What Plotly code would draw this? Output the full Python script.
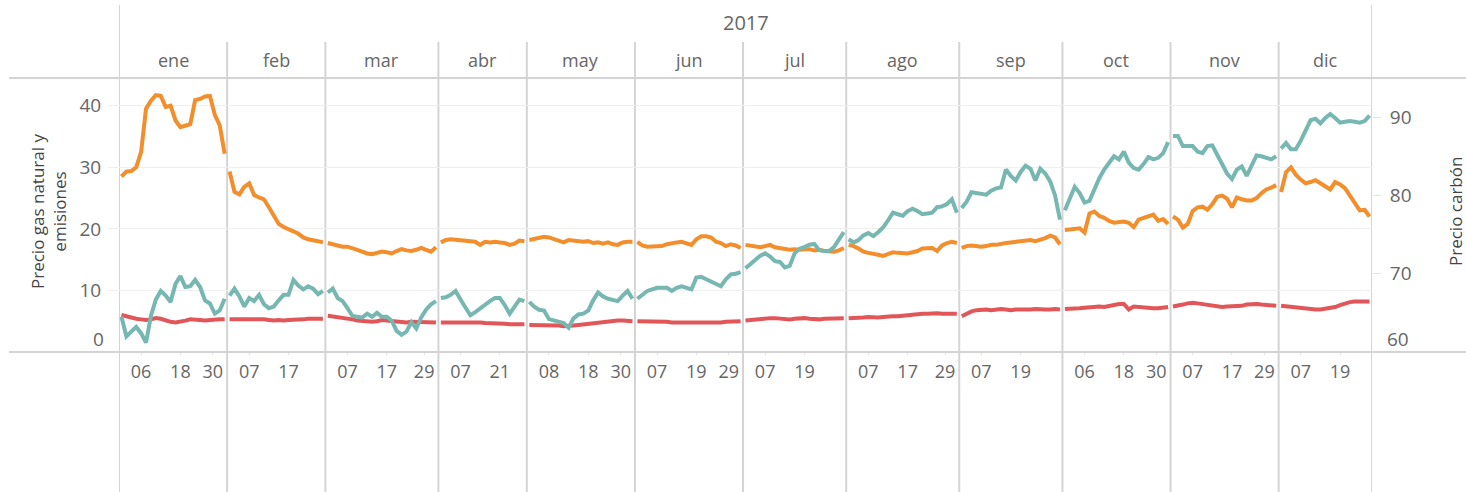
import plotly.graph_objects as go

# ---------------- data ----------------
months = ["ene", "feb", "mar", "abr", "may", "jun", "jul", "ago", "sep", "oct", "nov", "dic"]
year_label = "2017"

# trading days (day of month) in each month of 2017
trading_days = [
    [2, 3, 4, 5, 6, 9, 10, 11, 12, 13, 16, 17, 18, 19, 20, 23, 24, 25, 26, 27, 30, 31],
    [1, 2, 3, 6, 7, 8, 9, 10, 13, 14, 15, 16, 17, 20, 21, 22, 23, 24, 27, 28],
    [1, 2, 3, 6, 7, 8, 9, 10, 13, 14, 15, 16, 17, 20, 21, 22, 23, 24, 27, 28, 29, 30, 31],
    [3, 4, 5, 6, 7, 10, 11, 12, 13, 18, 19, 20, 21, 24, 25, 26, 27, 28],
    [2, 3, 4, 5, 8, 9, 10, 11, 12, 15, 16, 17, 18, 19, 22, 23, 24, 25, 26, 29, 30, 31],
    [1, 2, 5, 6, 7, 8, 9, 12, 13, 14, 15, 16, 19, 20, 21, 22, 23, 26, 27, 28, 29, 30],
    [3, 4, 5, 6, 7, 10, 11, 12, 13, 14, 17, 18, 19, 20, 21, 24, 25, 26, 27, 28, 31],
    [1, 2, 3, 4, 7, 8, 9, 10, 11, 14, 15, 16, 17, 18, 21, 22, 23, 24, 25, 28, 29, 30, 31],
    [1, 4, 5, 6, 7, 8, 11, 12, 13, 14, 15, 18, 19, 20, 21, 22, 25, 26, 27, 28, 29],
    [2, 3, 4, 5, 6, 9, 10, 11, 12, 13, 16, 17, 18, 19, 20, 23, 24, 25, 26, 27, 30, 31],
    [1, 2, 3, 6, 7, 8, 9, 10, 13, 14, 15, 16, 17, 20, 21, 22, 23, 24, 27, 28, 29, 30],
    [1, 4, 5, 6, 7, 8, 11, 12, 13, 14, 15, 18, 19, 20, 21, 22, 27, 28, 29],
]

# Precio gas natural (left axis)
gas = [
    28.5, 29.3, 29.4, 30.0, 32.5, 39.5, 40.8, 41.7, 41.6, 39.8, 40.0, 37.6, 36.5, 36.8, 37.0, 40.9, 41.1, 41.5, 41.6, 38.5, 36.8, 32.2,
    29.3, 26.0, 25.6, 26.8, 27.4, 25.5, 25.1, 24.8, 23.5, 22.0, 20.8, 20.3, 20.0, 19.6, 19.2, 18.6, 18.3, 18.2, 18.0, 17.8,
    17.7, 17.5, 17.3, 17.1, 17.1, 16.9, 16.6, 16.3, 16.0, 15.9, 16.1, 16.3, 16.2, 16.0, 16.4, 16.7, 16.5, 16.4, 16.6, 16.9, 16.6, 16.3, 17.0,
    17.8, 18.2, 18.3, 18.2, 18.1, 18.0, 17.9, 17.9, 17.4, 17.9, 17.8, 17.9, 17.8, 17.7, 17.4, 17.6, 18.1, 18.0,
    18.2, 18.4, 18.5, 18.7, 18.6, 18.3, 18.1, 17.8, 18.2, 18.1, 17.9, 17.9, 18.0, 17.7, 17.8, 17.6, 17.8, 17.5, 17.4, 17.8, 17.9, 17.9,
    17.9, 17.3, 17.1, 17.1, 17.1, 17.2, 17.5, 17.7, 17.8, 17.9, 17.6, 17.4, 18.3, 18.8, 18.8, 18.6, 17.9, 17.7, 17.2, 17.5, 17.3, 16.9,
    17.4, 17.3, 17.1, 17.0, 17.2, 17.4, 17.0, 16.9, 16.8, 16.6, 16.7, 16.6, 16.7, 16.7, 16.5, 16.6, 16.4, 16.4, 16.3, 16.5, 16.9,
    17.4, 17.2, 16.8, 16.3, 16.1, 16.0, 15.8, 15.6, 15.9, 16.2, 16.1, 16.0, 16.0, 16.2, 16.4, 16.8, 16.9, 16.9, 16.4, 17.3, 17.7, 17.9, 17.7,
    16.9, 17.2, 17.3, 17.2, 17.1, 17.2, 17.4, 17.4, 17.6, 17.7, 17.8, 17.9, 18.0, 18.1, 18.2, 18.0, 18.2, 18.5, 18.9, 18.6, 17.5,
    19.8, 19.9, 20.0, 20.1, 19.4, 22.5, 22.8, 22.1, 21.8, 21.3, 21.0, 21.1, 21.2, 21.0, 20.3, 21.5, 21.8, 22.0, 22.3, 21.3, 21.6, 20.8,
    22.0, 21.5, 20.2, 20.8, 22.9, 23.5, 23.6, 23.1, 24.0, 25.2, 25.4, 24.9, 23.5, 25.1, 24.8, 24.6, 24.6, 25.0, 25.8, 26.4, 26.7, 27.1,
    26.0, 29.2, 30.0, 28.8, 28.0, 27.4, 27.6, 27.9, 27.4, 26.8, 26.4, 27.6, 27.2, 26.6, 25.4, 24.0, 23.0, 23.1, 22.0,
]

# Precio emisiones (left axis)
emisiones = [
    6.0, 5.8, 5.5, 5.4, 5.3, 5.2, 5.3, 5.5, 5.4, 5.1, 4.9, 4.8, 4.9, 5.1, 5.3, 5.3, 5.2, 5.1, 5.2, 5.2, 5.3, 5.3,
    5.3, 5.3, 5.4, 5.4, 5.3, 5.3, 5.4, 5.3, 5.2, 5.1, 5.2, 5.1, 5.2, 5.2, 5.3, 5.3, 5.4, 5.4, 5.4, 5.4,
    5.9, 5.8, 5.7, 5.6, 5.5, 5.3, 5.1, 5.0, 4.9, 4.9, 5.0, 5.2, 5.1, 5.0, 4.9, 4.8, 4.8, 4.9, 4.9, 4.9, 4.8, 4.8, 4.8,
    4.8, 4.8, 4.9, 4.9, 4.8, 4.8, 4.9, 4.8, 4.8, 4.7, 4.7, 4.6, 4.6, 4.6, 4.5, 4.5, 4.5, 4.5,
    4.4, 4.4, 4.4, 4.3, 4.4, 4.3, 4.3, 4.2, 4.2, 4.3, 4.4, 4.5, 4.6, 4.6, 4.7, 4.8, 4.9, 5.0, 5.1, 5.1, 5.1, 5.0,
    5.0, 5.0, 4.9, 4.9, 4.9, 4.9, 4.9, 4.8, 4.8, 4.8, 4.8, 4.8, 4.8, 4.8, 4.7, 4.7, 4.8, 4.8, 4.9, 4.9, 5.0, 5.0,
    5.1, 5.2, 5.2, 5.3, 5.4, 5.5, 5.5, 5.4, 5.3, 5.3, 5.4, 5.5, 5.5, 5.4, 5.3, 5.3, 5.4, 5.4, 5.5, 5.5, 5.5,
    5.5, 5.5, 5.5, 5.6, 5.7, 5.6, 5.6, 5.7, 5.8, 5.8, 5.8, 5.9, 6.0, 6.0, 6.1, 6.2, 6.2, 6.3, 6.3, 6.2, 6.2, 6.3, 6.2,
    5.8, 6.2, 6.6, 6.8, 6.9, 6.9, 6.8, 6.9, 7.0, 6.9, 6.8, 6.9, 6.9, 6.8, 6.9, 7.0, 6.9, 6.9, 6.9, 7.0, 6.9,
    7.0, 7.0, 7.1, 7.1, 7.2, 7.3, 7.4, 7.4, 7.3, 7.5, 7.6, 7.8, 7.8, 6.9, 7.4, 7.3, 7.3, 7.2, 7.1, 7.1, 7.2, 7.3,
    7.4, 7.5, 7.7, 7.9, 8.0, 7.9, 7.8, 7.6, 7.5, 7.4, 7.3, 7.4, 7.4, 7.5, 7.5, 7.7, 7.8, 7.8, 7.7, 7.6, 7.6, 7.5,
    7.5, 7.4, 7.4, 7.3, 7.2, 7.1, 7.0, 6.9, 6.9, 7.0, 7.1, 7.3, 7.6, 7.9, 8.1, 8.2, 8.2, 8.2, 8.2,
]

# Precio carbón (right axis)
carbon = [
    64.5, 62.0, 62.6, 63.2, 62.4, 61.2, 64.6, 66.7, 67.8, 67.2, 66.4, 68.7, 69.7, 68.3, 68.4, 69.2, 68.3, 66.6, 66.2, 64.9, 65.3, 66.8,
    67.2, 68.1, 67.1, 65.8, 66.9, 66.5, 67.3, 66.1, 65.6, 65.8, 66.6, 67.3, 67.3, 69.2, 68.5, 68.0, 68.4, 68.1, 67.4, 67.8,
    67.6, 68.1, 66.9, 66.5, 65.6, 64.6, 64.5, 64.4, 64.9, 64.5, 65.0, 64.5, 64.5, 64.0, 62.7, 62.2, 62.6, 63.8, 63.0, 64.4, 65.4, 66.1, 66.5,
    66.9, 67.0, 67.3, 67.8, 66.7, 65.6, 64.7, 65.1, 65.6, 66.1, 66.5, 66.9, 66.9, 66.0, 64.9, 65.8, 66.7, 66.5,
    66.4, 65.8, 65.4, 65.3, 64.2, 64.0, 63.9, 63.7, 63.1, 64.3, 64.8, 64.9, 65.3, 66.6, 67.6, 67.1, 66.8, 66.6, 66.5, 67.2, 67.8, 66.8,
    66.8, 67.3, 67.8, 68.0, 68.2, 68.2, 68.2, 67.8, 68.2, 68.4, 68.2, 68.0, 69.5, 69.6, 69.3, 69.0, 68.8, 68.4, 69.3, 69.9, 70.0, 70.2,
    70.7, 71.2, 71.7, 72.3, 72.6, 72.2, 71.6, 71.5, 70.8, 71.0, 72.6, 73.2, 73.4, 73.7, 73.8, 73.0, 72.9, 72.9, 73.4, 74.4, 75.3,
    74.4, 74.0, 74.3, 74.9, 75.2, 74.8, 75.3, 75.9, 76.8, 77.8, 77.6, 77.4, 78.0, 78.3, 78.0, 77.6, 77.7, 77.8, 78.5, 78.6, 78.9, 79.5, 77.8,
    78.4, 79.2, 80.4, 80.3, 80.1, 80.1, 80.6, 80.9, 81.0, 83.3, 82.5, 81.9, 83.0, 83.8, 83.4, 81.9, 83.4, 82.8, 81.8, 80.0, 76.9,
    78.1, 79.6, 81.1, 80.3, 79.1, 79.3, 80.9, 82.2, 83.3, 84.2, 85.0, 84.6, 85.6, 84.2, 83.5, 83.3, 84.0, 84.9, 84.6, 84.8, 85.4, 86.8,
    87.6, 87.6, 86.3, 86.3, 86.3, 85.6, 85.4, 86.3, 86.4, 85.2, 84.0, 82.8, 82.1, 83.3, 83.7, 82.5, 83.8, 85.1, 85.0, 84.8, 84.6, 85.0,
    86.0, 86.7, 85.9, 85.9, 87.0, 88.2, 89.6, 89.8, 89.2, 89.9, 90.4, 89.9, 89.3, 89.4, 89.5, 89.4, 89.3, 89.5, 90.2,
]

left_ticks = [0, 10, 20, 30, 40]
right_ticks = [60, 70, 80, 90]
left_title = "Precio gas natural y<br>emisiones"
right_title = "Precio carbón"

# ---------------- styling ----------------
C_GAS = "#F28E2B"
C_CO2 = "#E15759"
C_COAL = "#76B7B2"
LINE_C = "#d4d4d4"
GRID_C = "#efefef"
TXT = "#666666"
FONT = "Open Sans"

W, H = 1466, 492
ML, MR, MT, MB = 119, 94, 78, 140
PW, PH = W - ML - MR, H - MT - MB

n_total = sum(len(d) for d in trading_days)
assert len(gas) == n_total and len(emisiones) == n_total and len(carbon) == n_total

starts = []
k = 0
for d in trading_days:
    starts.append(k)
    k += len(d)


def broken(values):
    xs, ys = [], []
    for s, d in zip(starts, trading_days):
        for i in range(len(d)):
            xs.append(s + i + 0.5)
            ys.append(values[s + i])
        xs.append(None)
        ys.append(None)
    return xs, ys


def py(px):  # pixel y (from top) -> paper y
    return (H - MB - px) / PH


def pxx(px):  # pixel x -> paper x
    return (px - ML) / PW


fig = go.Figure()
for vals, col, ax, name in [(emisiones, C_CO2, "y", "Emisiones"), (gas, C_GAS, "y", "Gas natural"),
                            (carbon, C_COAL, "y2", "Carbón")]:
    xs, ys = broken(vals)
    fig.add_trace(go.Scatter(x=xs, y=ys, mode="lines", name=name, yaxis=ax,
                             line=dict(color=col, width=4), connectgaps=False,
                             hoverinfo="skip"))

# x tick labels: every 8th trading day starting at the 5th
tickvals, ticktext = [], []
for s, d in zip(starts, trading_days):
    n = len(d)
    for idx in (4, 12, 20):
        if idx < n and (idx != 20 or n >= 22):
            tickvals.append(min(s + idx + 0.5, s + n - 2.9))
            ticktext.append(f"{d[idx]:02d}")

fig.update_layout(
    width=W, height=H,
    margin=dict(l=ML, r=MR, t=MT, b=MB, pad=0),
    paper_bgcolor="white", plot_bgcolor="white",
    showlegend=False,
    font=dict(family=FONT, color=TXT, size=17),
    xaxis=dict(range=[0, n_total], showgrid=False, zeroline=False, showline=False,
               tickmode="array", tickvals=tickvals, ticktext=ticktext,
               ticks="outside", ticklen=2, tickcolor="#e4e4e4",
               tickfont=dict(size=18, color=TXT, family=FONT), ticklabelstandoff=1),
    yaxis=dict(range=[0, 44.5], tickmode="array", tickvals=[t for t in left_ticks if t > 0],
               showgrid=True, gridcolor=GRID_C, gridwidth=1, zeroline=False, showline=False,
               ticks="outside", ticklen=10, tickcolor=GRID_C,
               tickfont=dict(size=19, color=TXT, family=FONT), ticklabelstandoff=3),
    yaxis2=dict(range=[60, 95], overlaying="y", side="right", tickmode="array",
                tickvals=[t for t in right_ticks if t > 60], showgrid=False, zeroline=False,
                showline=False, ticks="outside", ticklen=8, tickcolor="#e4e4e4",
                tickfont=dict(size=19, color=TXT, family=FONT), ticklabelstandoff=5),
)

shapes = []
# month separators
for s in starts[1:]:
    shapes.append(dict(type="line", xref="x", yref="paper", x0=s, x1=s, y0=py(42), y1=py(H),
                       line=dict(color=LINE_C, width=2), layer="below"))
for s in (0, n_total):
    shapes.append(dict(type="line", xref="x", yref="paper", x0=s, x1=s, y0=py(5), y1=py(H),
                       line=dict(color=LINE_C, width=2), layer="below"))
# horizontal separators
for ypx in (MT, H - MB):
    shapes.append(dict(type="line", xref="paper", yref="paper", x0=pxx(9), x1=pxx(W), y0=py(ypx), y1=py(ypx),
                       line=dict(color=LINE_C, width=2), layer="below"))
fig.update_layout(shapes=shapes)

ann = []
ann.append(dict(text=year_label, x=n_total / 2, xref="x", y=py(22), yref="paper", showarrow=False,
                font=dict(size=20, color=TXT, family=FONT), xanchor="center", yanchor="middle"))
for m, s, d in zip(months, starts, trading_days):
    ann.append(dict(text=m, x=s + len(d) / 2, xref="x", y=py(60), yref="paper", showarrow=False,
                    font=dict(size=18, color=TXT, family=FONT), xanchor="center", yanchor="middle"))
# lowest tick labels, nudged up inside the pane (as in the original)
ann.append(dict(text=str(left_ticks[0]), x=0, xref="paper", y=left_ticks[0], yref="y", showarrow=False,
                xanchor="right", yanchor="middle", xshift=-13, yshift=13,
                font=dict(size=19, color=TXT, family=FONT)))
ann.append(dict(text=str(right_ticks[0]), x=1, xref="paper", y=right_ticks[0], yref="y2", showarrow=False,
                xanchor="left", yanchor="middle", xshift=13, yshift=13,
                font=dict(size=19, color=TXT, family=FONT)))
# axis titles
ann.append(dict(text=left_title, x=pxx(48), xref="paper", y=py(212), yref="paper", showarrow=False,
                textangle=-90, xanchor="center", yanchor="middle",
                font=dict(size=17, color="#444444", family=FONT)))
ann.append(dict(text=right_title, x=pxx(1455), xref="paper", y=py(212), yref="paper", showarrow=False,
                textangle=-90, xanchor="center", yanchor="middle",
                font=dict(size=17, color="#444444", family=FONT)))
fig.update_layout(annotations=ann)

fig.write_html("out.html", config={"displayModeBar": False},
               post_script="document.body.style.margin='0';document.body.style.overflow='hidden';")
